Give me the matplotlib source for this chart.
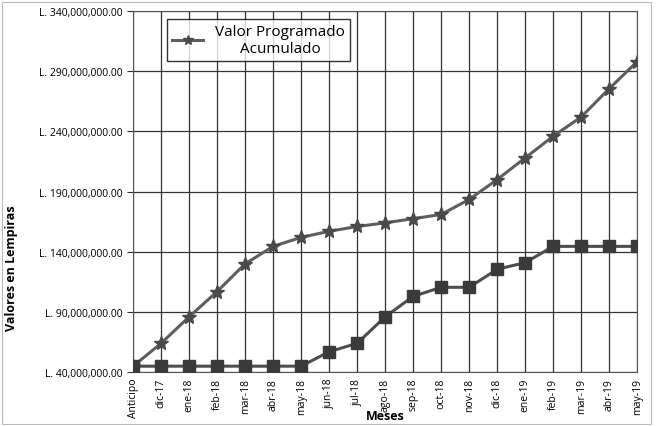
import matplotlib.pyplot as plt
from matplotlib.ticker import FuncFormatter

# ================= datos =================
meses = ["Anticipo", "dic-17", "ene-18", "feb-18", "mar-18", "abr-18", "may-18",
         "jun-18", "jul-18", "ago-18", "sep-18", "oct-18", "nov-18", "dic-18",
         "ene-19", "feb-19", "mar-19", "abr-19", "may-19"]

# millones de lempiras
programado = [45, 64, 86, 107, 130, 144.5, 152, 157, 161, 164, 167.5, 171,
              183.5, 200, 218, 236, 252, 275.5, 298]
ejecutado = [45, 45, 45, 45, 45, 45, 45, 57, 64, 86, 103, 110.5, 110.5,
             125.5, 131, 144.5, 144.5, 144.5, 144.5]

y_ticks = [40, 90, 140, 190, 240, 290, 340]
# =========================================

plt.rcParams['font.family'] = ['Open Sans', 'DejaVu Sans']

fig = plt.figure(figsize=(6.59, 4.27), dpi=100)
ax = fig.add_axes([0.202, 0.126, 0.765, 0.846])

x = list(range(len(meses)))
ax.plot(x, programado, color='#5e5e5e', linewidth=2.2, marker='*',
        markersize=10, markerfacecolor='#4a4a4a', markeredgecolor='#4a4a4a',
        label='Valor Programado\nAcumulado', zorder=3)
ax.plot(x, ejecutado, color='#4e4e4e', linewidth=2.2, marker='s',
        markersize=8, markerfacecolor='#3a3a3a', markeredgecolor='#3a3a3a',
        zorder=3)

ax.set_xlim(0, len(meses) - 1)
ax.set_ylim(40, 340)
ax.set_yticks(y_ticks)
ax.yaxis.set_major_formatter(FuncFormatter(lambda v, p: f"L. {v * 1e6:,.2f}"))
ax.set_xticks(x)
ax.set_xticklabels(meses, rotation=90, fontsize=7.5)
ax.tick_params(axis='y', labelsize=7.5, length=4, color='#333333')
ax.tick_params(axis='x', length=0, pad=4)

ax.grid(True, color='#333333', linewidth=0.9)
ax.set_axisbelow(True)
for s in ax.spines.values():
    s.set_color('#555555')

ax.set_ylabel("Valores en Lempiras", fontsize=9, fontweight='bold')
ax.yaxis.set_label_coords(-0.228, 0.29)
fig.text(385 / 659, 4 / 427, "Meses", fontsize=9, fontweight='bold',
         ha='center', va='bottom')

leg = ax.legend(loc='upper left', bbox_to_anchor=(0.052, 1.0), fontsize=11,
                frameon=True, fancybox=False, edgecolor='black',
                handlelength=2.0, borderpad=0.35, markerscale=0.7,
                labelspacing=0.2)
leg.get_frame().set_linewidth(1.0)
for t in leg.get_texts():
    t.set_ha('center')

# borde exterior
fig.patches.append(plt.Rectangle((0.003, 0.004), 0.985, 0.99, transform=fig.transFigure,
                                 fill=False, edgecolor='#bbbbbb', linewidth=0.8))

plt.savefig("out.png")
